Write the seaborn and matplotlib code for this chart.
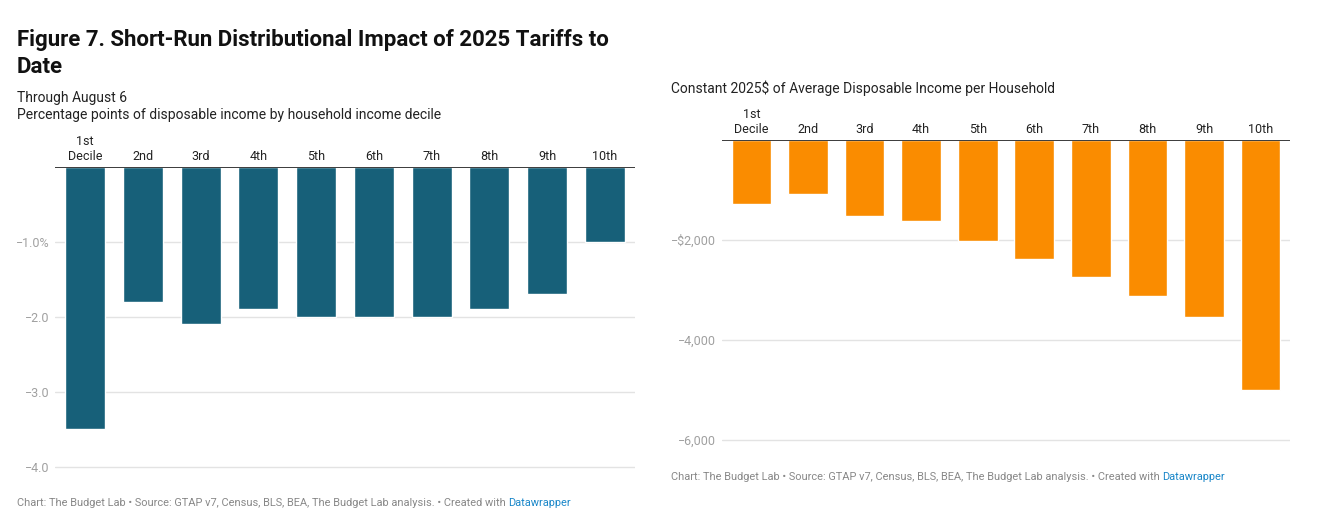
import matplotlib
matplotlib.use("Agg")
import matplotlib.pyplot as plt
import seaborn as sns
import pandas as pd

deciles = ["1st\nDecile", "2nd", "3rd", "4th", "5th", "6th", "7th", "8th", "9th", "10th"]
pct_change = [-3.5, -1.8, -2.1, -1.9, -2.0, -2.0, -2.0, -1.9, -1.7, -1.0]
dollar_change = [-1290, -1090, -1530, -1630, -2030, -2370, -2730, -3110, -3530, -4990]
pct_ticks = [-1.0, -2.0, -3.0, -4.0]
pct_tick_labels = ["\u22121.0%", "\u22122.0", "\u22123.0", "\u22124.0"]
dollar_ticks = [-2000, -4000, -6000]
dollar_tick_labels = ["\u2212$2,000", "\u22124,000", "\u22126,000"]

sns.set_theme(style="white")
plt.rcParams["font.family"] = ["Roboto", "DejaVu Sans"]

W, H = 1321, 526
fig = plt.figure(figsize=(W / 100, H / 100), dpi=100)

def px_axes(x0, y_top, x1, y_bot):
    return fig.add_axes([x0 / W, 1 - y_bot / H, (x1 - x0) / W, (y_bot - y_top) / H])

def style(ax, ticks, labels, ylim):
    ax.set_ylim(*ylim)
    ax.set_xlim(-0.52, 9.52)
    ax.set_yticks(ticks)
    ax.set_yticklabels(labels, color="#a0a0a0", fontsize=9)
    ax.yaxis.grid(True, color="#e3e3e3", linewidth=1)
    ax.set_axisbelow(True)
    for s in ax.spines.values():
        s.set_visible(False)
    ax.axhline(0, color="#1a1a1a", linewidth=1.2, zorder=5)
    ax.xaxis.tick_top()
    ax.tick_params(axis="x", length=0, pad=3, labelsize=9, labelcolor="#222222")
    ax.tick_params(axis="y", length=0, pad=4)
    ax.set_xlabel("")
    ax.set_ylabel("")

# Left panel
df1 = pd.DataFrame({"decile": deciles, "value": pct_change})
ax1 = px_axes(55, 167, 635, 469)
sns.barplot(data=df1, x="decile", y="value", order=deciles, color="#176079",
            width=0.69, saturation=1, ax=ax1)
style(ax1, pct_ticks, pct_tick_labels, (-4.0267, 0))

# Right panel
df2 = pd.DataFrame({"decile": deciles, "value": dollar_change})
ax2 = px_axes(722, 140, 1290, 442)
sns.barplot(data=df2, x="decile", y="value", order=deciles, color="#fa8c00",
            width=0.70, saturation=1, ax=ax2)
style(ax2, dollar_ticks, dollar_tick_labels, (-6040, 0))

# Texts
fig.text(17 / W, 1 - 29 / H, "Figure 7. Short-Run Distributional Impact of 2025 Tariffs to\nDate",
         ha="left", va="top", fontsize=16, fontweight="bold", color="#111111",
         linespacing=1.3)
fig.text(17 / W, 1 - 91 / H, "Through August 6\nPercentage points of disposable income by household income decile",
         ha="left", va="top", fontsize=10, color="#222222", linespacing=1.25)
fig.text(671 / W, 1 - 81 / H, "Constant 2025$ of Average Disposable Income per Household",
         ha="left", va="top", fontsize=10, color="#222222")

foot = "Chart: The Budget Lab \u2022 Source: GTAP v7, Census, BLS, BEA, The Budget Lab analysis. \u2022 Created with "
for x0, y0 in [(17, 503), (671, 477)]:
    t = fig.text(x0 / W, 1 - y0 / H, foot, ha="left", va="center", fontsize=7.9, color="#888888")
    fig.canvas.draw()
    bb = t.get_window_extent()
    fig.text(bb.x1 / W, 1 - y0 / H, "Datawrapper", ha="left", va="center", fontsize=7.9, color="#1a87c9")

fig.savefig("out.png", dpi=100, facecolor="white")
